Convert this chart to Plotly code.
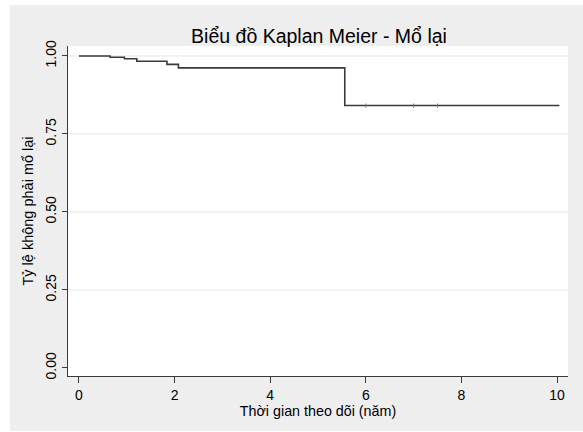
import plotly.graph_objects as go

# Kaplan-Meier estimate: event times (years) and survival free of reoperation
times = [0, 0.65, 0.95, 1.21, 1.84, 2.08, 5.56, 10.05]
survival = [1.0, 0.996, 0.991, 0.983, 0.973, 0.962, 0.841, 0.841]

# censored observations on the lower plateau
censor_times = [6.0, 7.0, 7.5]
censor_surv = [0.841, 0.841, 0.841]

x_ticks = [0, 2, 4, 6, 8, 10]
y_ticks = [0.0, 0.25, 0.5, 0.75, 1.0]
y_tick_labels = ["0.00", "0.25", "0.50", "0.75", "1.00"]

title_text = "Biểu đồ Kaplan Meier - Mổ lại"
x_title = "Thời gian theo dõi (năm)"
y_title = "Tỷ lệ không phải mổ lại"

W, H = 583, 432
ML, MR, MT, MB = 68, 15, 46, 56
PW, PH = W - ML - MR, H - MT - MB

def px_x(p):
    return (p - ML) / PW

def px_y(p):
    return (H - MB - p) / PH

LINE = "#3a3a3a"
FONT = "Liberation Sans, Arial, sans-serif"

fig = go.Figure()
fig.add_trace(go.Scatter(
    x=times, y=survival, mode="lines", line_shape="hv",
    line=dict(color=LINE, width=1.6), showlegend=False, hoverinfo="skip",
))
fig.add_trace(go.Scatter(
    x=censor_times, y=censor_surv, mode="markers",
    marker=dict(symbol="line-ns", size=3, line=dict(color="#777777", width=1)),
    showlegend=False, hoverinfo="skip",
))

shapes = [
    # outer light-gray graph region
    dict(type="rect", xref="paper", yref="paper", layer="below",
         x0=px_x(10), x1=px_x(W + 5), y0=px_y(431), y1=px_y(5),
         fillcolor="#eeeeee", line=dict(width=0)),
    # white plot region
    dict(type="rect", xref="paper", yref="paper", layer="below",
         x0=0, x1=1, y0=0, y1=1, fillcolor="white", line=dict(width=0)),
]
# horizontal grid lines at every labelled level above zero
for v in y_ticks[1:]:
    shapes.append(dict(type="line", xref="paper", yref="y", layer="below",
                       x0=0, x1=1, y0=v, y1=v,
                       line=dict(color="#e6e6e6", width=1)))

fig.update_layout(
    width=W, height=H,
    margin=dict(l=ML, r=MR, t=MT, b=MB),
    paper_bgcolor="white", plot_bgcolor="white",
    font=dict(family=FONT, color="#000000", size=14),
    shapes=shapes,
    title=dict(text=title_text, x=px_x(319) * PW / W + ML / W, xanchor="center",
               y=1 - 36 / H, yanchor="middle",
               font=dict(size=19.5, family=FONT, color="#000000")),
    xaxis=dict(
        range=[-0.23, 10.23], tickvals=x_ticks, ticktext=[str(t) for t in x_ticks],
        showgrid=False, zeroline=False,
        showline=True, linecolor=LINE, linewidth=1,
        ticks="outside", ticklen=6, tickcolor=LINE, tickwidth=1,
        tickfont=dict(size=14),
        title=dict(text=x_title, font=dict(size=14.3), standoff=4),
    ),
    yaxis=dict(
        range=[-0.026, 1.032], tickvals=y_ticks, ticktext=y_tick_labels,
        tickangle=-90,
        showgrid=False, zeroline=False,
        showline=True, linecolor=LINE, linewidth=1,
        ticks="outside", ticklen=5, tickcolor=LINE, tickwidth=1,
        tickfont=dict(size=14),
        title=dict(text=y_title, font=dict(size=14.5), standoff=6),
    ),
)

fig.write_html("out.html")
